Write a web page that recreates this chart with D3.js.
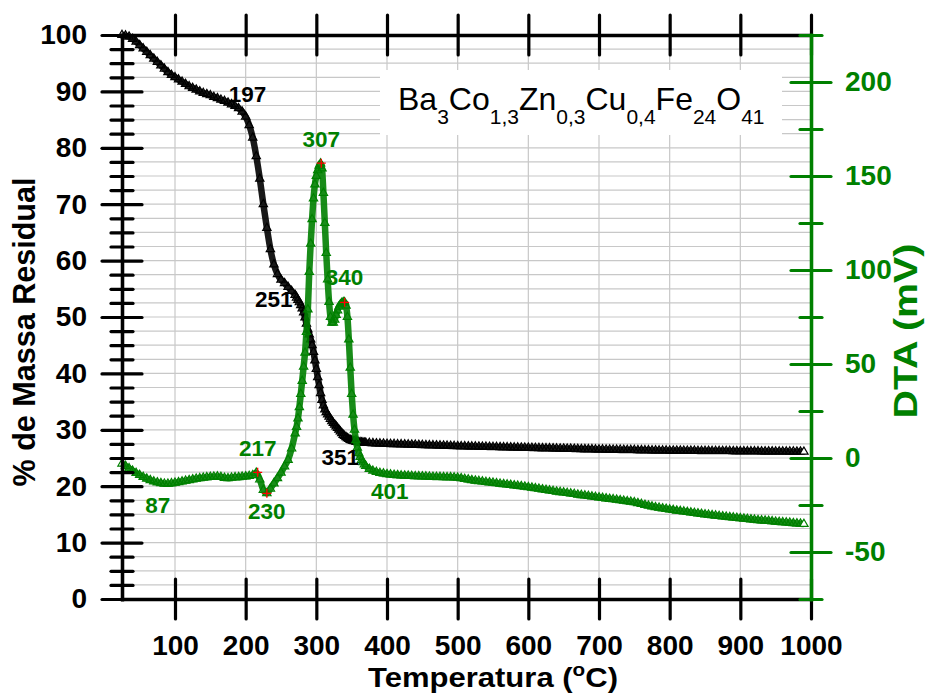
<!DOCTYPE html>
<html>
<head>
<meta charset="utf-8">
<script src="https://cdn.jsdelivr.net/npm/d3@7"></script>
<style>
  body { margin: 0; background: #fff; }
  text { font-family: "Liberation Sans", Arial, sans-serif; }
</style>
</head>
<body>
<svg id="tga" width="926" height="698"></svg>
<script>
// temperature grid (C)
var temps = [
  25,30,35,40,45,50,55,60,65,70,
  75,80,85,90,95,100,105,110,115,120,
  125,130,135,140,145,150,155,160,165,170,
  175,180,185,190,195,200,205,210,215,220,
  225,230,235,240,245,250,255,260,265,270,
  272,274,276,278,280,282,284,286,288,290,
  292,294,296,298,300,302,304,306,308,310,
  312,314,316,318,320,322,324,326,328,330,
  332,334,336,338,340,342,344,346,348,350,
  352,354,356,358,360,362,364,366,368,370,
  375,380,385,390,395,400,405,410,415,420,
  425,430,435,440,445,450,455,460,465,470,
  475,480,485,490,495,500,505,510,515,520,
  525,530,535,540,545,550,555,560,565,570,
  575,580,585,590,595,600,605,610,615,620,
  625,630,635,640,645,650,655,660,665,670,
  675,680,685,690,695,700,705,710,715,720,
  725,730,735,740,745,750,755,760,765,770,
  775,780,785,790,795,800,805,810,815,820,
  825,830,835,840,845,850,855,860,865,870,
  875,880,885,890,895,900,905,910,915,920,
  925,930,935,940,945,950,955,960,965,970,
  975,980,985,990
];

// TG: % massa residual
var massa = [
  100,99.9,99.7,99.3,98.8,98.2,97.6,97.0,96.4,95.8,
  95.2,94.6,94.0,93.4,92.9,92.5,92.1,91.7,91.3,90.9,
  90.6,90.3,90.0,89.7,89.5,89.3,89.0,88.8,88.5,88.3,
  88.0,87.7,87.4,87.0,86.4,85.5,84.0,81.8,78.5,74.5,
  70.0,65.8,62.0,59.3,57.6,56.6,56.0,55.3,54.6,53.9,
  53.4,53.0,52.6,52.1,51.5,50.8,49.9,48.8,47.8,46.9,
  46.0,45.0,43.8,42.3,40.8,39.3,37.9,36.5,35.3,34.3,
  33.6,33.1,32.7,32.3,31.9,31.5,31.2,30.9,30.6,30.3,
  30.0,29.7,29.4,29.1,28.9,28.7,28.5,28.35,28.2,28.1,
  28.0,27.95,27.9,27.85,27.8,27.78,27.75,27.73,27.7,27.7,
  27.65,27.62,27.59,27.56,27.53,27.50,27.48,27.46,27.44,27.42,
  27.40,27.38,27.36,27.34,27.32,27.30,27.28,27.26,27.24,27.22,
  27.20,27.18,27.16,27.14,27.12,27.10,27.08,27.07,27.05,27.04,
  27.02,27.01,26.99,26.98,26.96,26.95,26.93,26.92,26.90,26.89,
  26.87,26.86,26.84,26.83,26.81,26.80,26.78,26.77,26.75,26.74,
  26.72,26.71,26.69,26.68,26.66,26.65,26.63,26.62,26.60,26.59,
  26.57,26.56,26.54,26.53,26.51,26.50,26.49,26.48,26.47,26.46,
  26.45,26.44,26.43,26.42,26.41,26.40,26.39,26.38,26.37,26.36,
  26.35,26.34,26.33,26.32,26.31,26.30,26.30,26.29,26.29,26.28,
  26.28,26.27,26.27,26.26,26.26,26.25,26.25,26.24,26.24,26.23,
  26.23,26.22,26.22,26.21,26.21,26.20,26.20,26.19,26.19,26.18,
  26.18,26.17,26.17,26.16,26.16,26.15,26.15,26.14,26.14,26.13,
  26.13,26.12,26.12,26.11
];

// DTA (mV)
var dta = [
  -3.0,-4.2,-5.5,-6.8,-8.0,-9.1,-10.1,-11.0,-11.8,-12.5,
  -13.0,-13.4,-13.7,-13.7,-13.5,-13.2,-12.9,-12.5,-12.1,-11.8,
  -11.4,-11.1,-10.8,-10.5,-10.3,-10.1,-10.0,-9.9,-10.1,-10.6,
  -10.8,-10.5,-10.3,-10.2,-10.0,-9.8,-9.6,-9.2,-7.9,-11.5,
  -17.0,-18.8,-16.3,-13.5,-10.8,-7.8,-4.5,-1.0,5.0,13.0,
  16.5,21,27,34,41,48.5,56,67,79,99,
  114,127,138,145.5,150,153,155.5,156.6,154,141,
  125,109,95,83,75,72,72,73.5,76,78.5,
  80.5,81.7,82.5,82.9,82.8,81,75,63,48,34,
  23,15,9.5,5.5,2.5,0.5,-1.0,-2.3,-3.4,-4.3,
  -5.8,-6.8,-7.5,-8.0,-8.3,-8.6,-8.8,-9.0,-9.15,-9.3,
  -9.4,-9.5,-9.6,-9.7,-9.75,-9.8,-9.9,-10.0,-10.05,-10.1,
  -10.15,-10.2,-10.25,-10.3,-10.4,-10.5,-10.8,-11.2,-11.5,-11.8,
  -12.05,-12.3,-12.55,-12.8,-13.0,-13.2,-13.45,-13.7,-13.9,-14.1,
  -14.35,-14.6,-14.8,-15.0,-15.25,-15.5,-15.8,-16.1,-16.4,-16.7,
  -17.0,-17.3,-17.6,-17.9,-18.15,-18.4,-18.65,-18.9,-19.2,-19.5,
  -19.75,-20.0,-20.25,-20.5,-20.75,-21.0,-21.25,-21.5,-21.75,-22.0,
  -22.25,-22.5,-22.75,-23.0,-23.3,-23.6,-24.05,-24.5,-24.95,-25.4,
  -25.8,-26.2,-26.5,-26.8,-27.1,-27.4,-27.7,-28.0,-28.25,-28.5,
  -28.75,-29.0,-29.25,-29.5,-29.75,-30.0,-30.2,-30.4,-30.65,-30.9,
  -31.1,-31.3,-31.5,-31.7,-31.9,-32.1,-32.3,-32.5,-32.7,-32.9,
  -33.05,-33.2,-33.35,-33.5,-33.7,-33.9,-34.05,-34.2,-34.35,-34.5,
  -34.65,-34.8,-34.95,-35.1
];

// annotated points
var tgNoteT = [197, 251, 351];
var tgNoteV = [86.1, 56.6, 27.9];
var dtaNoteT = [87, 217, 230, 307, 340, 401];
var dtaNoteV = [-13.8, -7.6, -18.8, 156.8, 82.8, -8.6];
var dtaCrossT = [217, 230, 307, 340];
var dtaCrossV = [-7.6, -18.8, 156.8, 82.8];

// ticks
var xTicks = [100, 200, 300, 400, 500, 600, 700, 800, 900, 1000];
var yTicks = [0, 10, 20, 30, 40, 50, 60, 70, 80, 90, 100];
var yMinor = [2.5,5,7.5,12.5,15,17.5,22.5,25,27.5,32.5,35,37.5,42.5,45,47.5,52.5,55,57.5,
              62.5,65,67.5,72.5,75,77.5,82.5,85,87.5,92.5,95,97.5];
var dtaTicks = [-50, 0, 50, 100, 150, 200];
var dtaMinor = [-75, -25, 25, 75, 125, 175, 225];
var formula = [["Ba", "3"], ["Co", "1,3"], ["Zn", "0,3"], ["Cu", "0,4"], ["Fe", "24"], ["O", "41"]];

var green = "#008000";

var svg = d3.select("#tga"),
    margin = {top: 35, right: 115, bottom: 99, left: 122},
    w = +svg.attr("width") - margin.left - margin.right,
    h = +svg.attr("height") - margin.top - margin.bottom;

var x = d3.scaleLinear().domain([25, 1000]).range([0, w]);
var yL = d3.scaleLinear().domain([0, 100]).range([h, 0]);
var yR = d3.scaleLinear().domain([-75, 225]).range([h, 0]);

var g = svg.append("g")
    .attr("transform", "translate(" + margin.left + "," + margin.top + ")");

// grid
g.append("g").selectAll("line")
    .data(xTicks.filter(function(d) { return d < 1000; }))
  .enter().append("line")
    .attr("x1", function(d) { return x(d); })
    .attr("x2", function(d) { return x(d); })
    .attr("y1", 0).attr("y2", h)
    .attr("stroke", "#c8c8c8").attr("stroke-width", 1.2);

g.append("g").selectAll("line")
    .data(yMinor.concat(yTicks.filter(function(d) { return d > 0 && d < 100; })))
  .enter().append("line")
    .attr("x1", 0).attr("x2", w)
    .attr("y1", function(d) { return yL(d); })
    .attr("y2", function(d) { return yL(d); })
    .attr("stroke", "#c8c8c8").attr("stroke-width", 1.2);

// formula box
svg.append("rect")
    .attr("x", 380).attr("y", 70).attr("width", 402).attr("height", 65)
    .attr("fill", "#fff");

var ft = svg.append("text")
    .attr("x", 398).attr("y", 110)
    .style("font-size", "32px");
formula.forEach(function(p, i) {
  ft.append("tspan").attr("dy", i === 0 ? 0 : -14).text(p[0]);
  ft.append("tspan").attr("dy", 14).style("font-size", "21px").text(p[1]);
});

// series
var tgData = temps.map(function(t, i) { return {t: t, v: massa[i]}; });
var dtaData = temps.map(function(t, i) { return {t: t, v: dta[i]}; });
var tri = d3.symbol().type(d3.symbolTriangle).size(30);

function drawSeries(data, yScale, color) {
  var line = d3.line()
      .x(function(d) { return x(d.t); })
      .y(function(d) { return yScale(d.v); })
      .curve(d3.curveMonotoneX);

  // dense markers in the original merge into a thick band
  g.append("path")
      .datum(data)
      .attr("d", line)
      .attr("fill", "none")
      .attr("stroke", color)
      .attr("stroke-opacity", 0.9)
      .attr("stroke-linejoin", "round")
      .attr("stroke-width", 6.5);

  g.append("g").selectAll("path")
      .data(data)
    .enter().append("path")
      .attr("d", tri)
      .attr("transform", function(d) { return "translate(" + x(d.t) + "," + yScale(d.v) + ")"; })
      .attr("fill", function(d, i) { return i === data.length - 1 ? "#fff" : "none"; })
      .attr("stroke", color)
      .attr("stroke-width", 1.2);
}

drawSeries(tgData, yL, "#000");
drawSeries(dtaData, yR, green);

// red crosses at DTA peaks
g.append("g").selectAll("path")
    .data(dtaCrossT)
  .enter().append("path")
    .attr("d", "M-4.5,0H4.5M0,-4.5V4.5")
    .attr("transform", function(d, i) { return "translate(" + x(d) + "," + yR(dtaCrossV[i]) + ")"; })
    .attr("stroke", "#ff0000").attr("stroke-width", 1.3);

// annotations
var tgOff = [[4, -11], [-8, 27], [-12, 23]];
var dtaOff = [[-8, 29], [0, -16], [0, 26], [0, -16], [0, -17], [2, 25]];

g.append("g").selectAll("text")
    .data(tgNoteT)
  .enter().append("text")
    .attr("x", function(d, i) { return x(d) + tgOff[i][0]; })
    .attr("y", function(d, i) { return yL(tgNoteV[i]) + tgOff[i][1]; })
    .attr("text-anchor", "middle")
    .style("font-size", "22.5px").style("font-weight", "bold")
    .attr("fill", "#000")
    .text(function(d) { return d; });

g.append("g").selectAll("text")
    .data(dtaNoteT)
  .enter().append("text")
    .attr("x", function(d, i) { return x(d) + dtaOff[i][0]; })
    .attr("y", function(d, i) { return yR(dtaNoteV[i]) + dtaOff[i][1]; })
    .attr("text-anchor", "middle")
    .style("font-size", "22.5px").style("font-weight", "bold")
    .attr("fill", green)
    .text(function(d) { return d; });

// axes
var plain = function(d) { return String(d); };

function styleAxis(ax, color) {
  ax.attr("color", color);
  ax.select(".domain").attr("stroke-width", 3.3).attr("stroke-linecap", "square");
  ax.selectAll(".tick line").attr("stroke-width", 3.2).attr("stroke-linecap", "round");
  ax.selectAll(".tick text")
      .style("font-size", "28px").style("font-weight", "bold")
      .style("font-family", "'Liberation Sans', Arial, sans-serif")
      .attr("fill", color);
}

// top
var axTop = g.append("g")
    .call(d3.axisTop(x).tickValues(xTicks).tickSize(20).tickSizeOuter(0).tickFormat(""));
styleAxis(axTop, "#000");
axTop.selectAll(".tick line").attr("y1", 20);

// bottom
var axBot = g.append("g")
    .attr("transform", "translate(0," + h + ")")
    .call(d3.axisBottom(x).tickValues(xTicks).tickSize(20).tickSizeOuter(0).tickFormat(plain));
styleAxis(axBot, "#000");
axBot.selectAll(".tick line").attr("y1", -20);
axBot.selectAll(".tick text").attr("y", 56).attr("dy", null);

// left
var axLeftMinor = g.append("g")
    .call(d3.axisLeft(yL).tickValues(yMinor).tickSize(11).tickSizeOuter(0).tickFormat(""));
styleAxis(axLeftMinor, "#000");
axLeftMinor.selectAll(".tick line").attr("x1", 11);

var axLeft = g.append("g")
    .call(d3.axisLeft(yL).tickValues(yTicks).tickSize(20).tickSizeOuter(0).tickPadding(15).tickFormat(plain));
styleAxis(axLeft, "#000");
axLeft.selectAll(".tick line").attr("x1", 20);

// right (DTA)
var axRightMinor = g.append("g")
    .attr("transform", "translate(" + w + ",0)")
    .call(d3.axisRight(yR).tickValues(dtaMinor).tickSize(11).tickSizeOuter(0).tickFormat(""));
styleAxis(axRightMinor, green);
axRightMinor.selectAll(".tick line").attr("x1", -11);

var axRight = g.append("g")
    .attr("transform", "translate(" + w + ",0)")
    .call(d3.axisRight(yR).tickValues(dtaTicks).tickSize(20).tickSizeOuter(0).tickPadding(14).tickFormat(plain));
styleAxis(axRight, green);
axRight.selectAll(".tick line").attr("x1", -20);

// axis titles, stretched to the lengths seen in the figure
function stretch(tx, len) {
  return len / tx.node().getBBox().width;
}

var gx = svg.append("g");
var tx = gx.append("text")
    .attr("text-anchor", "middle")
    .style("font-size", "27px").style("font-weight", "bold");
tx.append("tspan").text("Temperatura (");
tx.append("tspan").attr("dy", -11).style("font-size", "18px").text("o");
tx.append("tspan").attr("dy", 11).text("C)");
gx.attr("transform", "translate(493,687) scale(" + stretch(tx, 250) + ",1)");

var gy = svg.append("g");
var ty = gy.append("text")
    .attr("text-anchor", "middle")
    .style("font-size", "31px").style("font-weight", "bold")
    .text("% de Massa Residual");
gy.attr("transform", "translate(35,332) rotate(-90) scale(" + stretch(ty, 309) + ",1)");

var gr = svg.append("g");
var tr = gr.append("text")
    .attr("text-anchor", "middle")
    .attr("fill", green)
    .style("font-size", "33px").style("font-weight", "bold")
    .text("DTA (mV)");
gr.attr("transform", "translate(917,331) rotate(-90) scale(" + stretch(tr, 175) + ",1)");
</script>
</body>
</html>
